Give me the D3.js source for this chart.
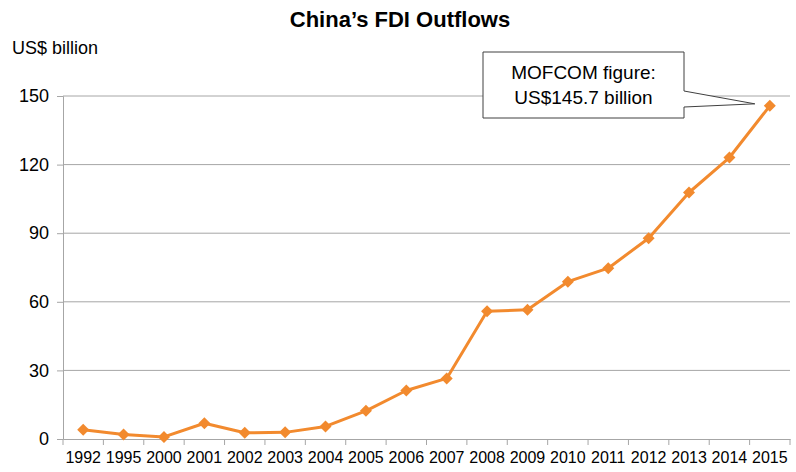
<!DOCTYPE html>
<html><head><meta charset="utf-8">
<script src="https://cdn.jsdelivr.net/npm/d3@7"></script>
<style>body{margin:0;background:#fff}svg{display:block;font-family:"Liberation Sans",Arial,sans-serif}</style>
</head><body><svg id="c" width="796" height="472"></svg>
<script>
const years = ["1992","1995","2000","2001","2002","2003","2004","2005","2006","2007","2008","2009","2010","2011","2012","2013","2014","2015"];
const outflows = [4.0,2.0,0.9,6.9,2.7,2.9,5.5,12.3,21.2,26.5,55.9,56.5,68.8,74.7,87.8,107.8,123.1,145.7];
const yTicks = [0,30,60,90,120,150];
const title = "China\u2019s FDI Outflows";
const unitLabel = "US$ billion";
const calloutLines = ["MOFCOM figure:","US$145.7 billion"];

(function(){
const svg = d3.select("#c");
const mL = 63, mR = 790, mT = 96, mB = 439;
const x = d3.scaleBand().domain(years).range([mL, mR]);
const y = d3.scaleLinear().domain([0,150]).range([mB, mT]);

svg.append("text").attr("x",400).attr("y",27).attr("text-anchor","middle")
  .attr("font-size",22).attr("font-weight","bold").attr("fill","#000").text(title);
svg.append("text").attr("x",12).attr("y",54).attr("font-size",18).attr("fill","#000").text(unitLabel);

// gridlines
svg.append("g").selectAll("line").data(yTicks.filter(d=>d>0)).join("line")
  .attr("x1",mL).attr("x2",mR).attr("y1",d=>y(d)).attr("y2",d=>y(d))
  .attr("stroke","#a6a6a6").attr("stroke-width",1);

// y axis
const ya = svg.append("g").attr("transform",`translate(${mL},0)`)
  .call(d3.axisLeft(y).tickValues(yTicks).tickSize(6).tickPadding(8));
ya.select(".domain").attr("stroke","#a6a6a6");
ya.selectAll(".tick line").attr("stroke","#a6a6a6");
ya.selectAll("text").attr("font-size",18).attr("fill","#000").attr("font-family","Liberation Sans, Arial, sans-serif");

// x axis
const xa = svg.append("g").attr("transform",`translate(0,${mB})`)
  .call(d3.axisBottom(x).tickSize(0).tickPadding(13));
xa.select(".domain").attr("stroke","#a6a6a6");
xa.selectAll("text").attr("font-size",16).attr("fill","#000").attr("font-family","Liberation Sans, Arial, sans-serif");
svg.append("g").selectAll("line").data(d3.range(years.length+1)).join("line")
  .attr("x1",i=>mL+i*x.step()).attr("x2",i=>mL+i*x.step())
  .attr("y1",mB).attr("y2",mB+6).attr("stroke","#a6a6a6");

// line
const cx = d => x(d) + x.bandwidth()/2;
const line = d3.line().x((d,i)=>cx(years[i])).y(d=>y(d));
svg.append("path").datum(outflows).attr("d",line).attr("fill","none")
  .attr("stroke","#f28a2e").attr("stroke-width",3).attr("stroke-linejoin","round");
svg.append("g").selectAll("path").data(outflows).join("path")
  .attr("d",d3.symbol(d3.symbolSquare, 72))
  .attr("transform",(d,i)=>`translate(${cx(years[i])},${y(d)}) rotate(45)`)
  .attr("fill","#f28a2e");

// callout
const last = outflows.length-1;
const tipX = cx(years[last]) - 15, tipY = y(outflows[last]) - 2;
const bx0 = 483, bx1 = 684, by0 = 52, by1 = 118;
svg.append("path")
  .attr("d",`M${bx0},${by0}H${bx1}V${91}L${tipX},${tipY}L${bx1},${107}V${by1}H${bx0}Z`)
  .attr("fill","#fff").attr("stroke","#404040").attr("stroke-width",1);
svg.append("g").selectAll("text").data(calloutLines).join("text")
  .attr("x",(bx0+bx1)/2).attr("y",(d,i)=>79+i*25).attr("text-anchor","middle")
  .attr("font-size",19).attr("fill","#000").text(d=>d);
})();
</script></body></html>
